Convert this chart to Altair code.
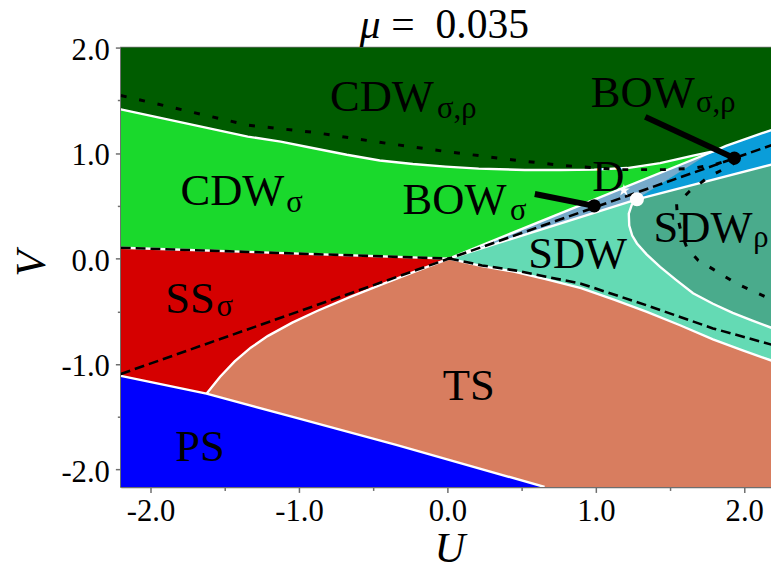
import altair as alt
import pandas as pd

FONT = "Liberation Serif"

# ---------------- axes extent ----------------
U_LIM = [-2.2, 2.18]
V_LIM = [-2.165, 2.0]
U_R = 2.2      # right closing coordinate (clipped)
V_B = -2.165   # bottom
V_T = 2.0      # top

# ---------------- phase boundaries (U, V) ----------------
top_U = [-2.2, -1.345, -1.123, -0.900, -0.678, -0.456, -0.233, -0.011, 0.211, 0.522, 0.762, 0.989, 1.211, 1.433, 1.655, 1.789, 1.877, 2.2]
top_V = [1.415, 1.156, 1.109, 1.046, 0.984, 0.930, 0.896, 0.872, 0.853, 0.840, 0.840, 0.843, 0.858, 0.905, 0.975, 1.015, 1.068, 1.227]

ss_cdw_U = [-2.2, 0.011]
ss_cdw_V = [0.103, 0.0]

ts_ss_U = [-1.623, -1.531, -1.433, -1.325, -1.211, -1.045, -0.878, -0.658, -0.433, -0.211, 0.011]
ts_ss_V = [-1.281, -1.120, -0.975, -0.845, -0.735, -0.607, -0.497, -0.366, -0.240, -0.118, 0.0]

ps_U = [-2.2, -1.623, -1.011, -0.345, 0.655]
ps_V = [-1.112, -1.281, -1.513, -1.766, -2.165]

sdw_ts_U = [0.011, 0.233, 0.455, 0.675, 0.900, 1.122, 1.344, 1.567, 1.789, 1.989, 2.2]
sdw_ts_V = [0.0, -0.072, -0.126, -0.200, -0.280, -0.390, -0.505, -0.632, -0.766, -0.870, -0.975]

sdw_rho_U = [1.277, 1.242, 1.222, 1.225, 1.245, 1.277, 1.342, 1.433, 1.542, 1.655, 1.789, 1.922, 2.055, 2.2]
sdw_rho_V = [0.562, 0.509, 0.425, 0.312, 0.218, 0.143, 0.040, -0.079, -0.204, -0.328, -0.428, -0.515, -0.588, -0.665]

bow_top_U = [0.011, 1.789]
bow_top_V = [0.0, 1.015]
bow_low_U = [0.011, 1.277]
bow_low_V = [0.0, 0.562]
bowsr_low_U = [1.277, 2.2]
bowsr_low_V = [0.562, 0.897]

# ---------------- guide lines ----------------
d1_U = [-2.2, 0.011, 2.2]
d1_V = [-1.094, 0.0, 1.083]
sdw_dash_U = [0.011, 0.233, 0.455, 0.900, 1.344, 1.789, 2.2]
sdw_dash_V = [0.0, -0.065, -0.112, -0.238, -0.444, -0.662, -0.822]
d2_U = [-2.2, -1.345, -0.9, -0.456, -0.011, 0.433, 0.762, 1.167, 1.455, 1.655, 1.8, 1.933]
d2_V = [1.546, 1.265, 1.196, 1.102, 1.015, 0.937, 0.884, 0.843, 0.843, 0.856, 0.89, 0.952]
d3_U = [1.955, 1.855, 1.767, 1.633, 1.544, 1.549, 1.575, 1.615, 1.689, 1.789, 1.944, 2.2]
d3_V = [0.921, 0.843, 0.781, 0.640, 0.518, 0.406, 0.247, 0.097, -0.016, -0.100, -0.234, -0.40]

# ---------------- markers & annotations ----------------
black_pts_U = [0.989, 1.933]
black_pts_V = [0.500, 0.952]
white_dot_U = [1.277]
white_dot_V = [0.562]
star_U = [1.189]
star_V = [0.647]
arrow1_U = [0.589, 0.989]
arrow1_V = [0.612, 0.500]
arrow2_U = [1.333, 1.933]
arrow2_V = [1.343, 0.952]

main_labels = ["CDW", "CDW", "BOW", "D", "BOW", "SDW", "SDW", "SS", "TS", "PS"]
main_U = [-0.791, -1.798, -0.302, 0.975, 0.966, 0.544, 1.389, -1.900, -0.031, -1.833]
main_V = [1.399, 0.509, 0.425, 0.640, 1.437, -0.094, 0.156, -0.516, -1.337, -1.921]
sub_labels = ["σ,ρ", "σ", "σ", "σ,ρ", "ρ", "σ"]
sub_U = [-0.070, -1.085, 0.422, 1.675, 2.060, -1.556]
sub_V = [1.329, 0.444, 0.368, 1.389, 0.106, -0.540]

# title pieces: italic symbol and value
title_sym = ["μ"]
title_sym_U = [-0.591]
title_val = ["=\u00a0\u00a00.035"]
title_val_U = [-0.378]
title_V = [2.093]

tick_vals = [-2.0, -1.5, -1.0, -0.5, 0.0, 0.5, 1.0, 1.5, 2.0]

STAR_PATH = ("M0,-1L0.2245,-0.309L0.951,-0.309L0.363,0.118L0.588,0.809L0,0.382"
             "L-0.588,0.809L-0.363,0.118L-0.951,-0.309L-0.2245,-0.309Z")

# ---------------- helpers ----------------
def pts(us, vs):
    return list(zip(us, vs))

def df_from(points):
    return pd.DataFrame({"U": [p[0] for p in points], "V": [p[1] for p in points],
                         "i": list(range(len(points)))})

label_expr = "datum.value % 1 === 0 ? (datum.value < 0 ? '-' : '') + format(abs(datum.value), '.1f') : ''"
tick_size = {"condition": {"test": "datum.value % 1 !== 0", "value": 3.5}, "value": 5.5}

xs = alt.Scale(domain=U_LIM, nice=False, zero=False)
ys = alt.Scale(domain=V_LIM, nice=False, zero=False)
x_axis = alt.Axis(values=tick_vals, labelExpr=label_expr, tickSize=tick_size, title="U",
                  titleX=332, titleY=75, titleBaseline="alphabetic", labelPadding=4,
                  labelFlush=False, labelOverlap=False, grid=False)
y_axis = alt.Axis(values=tick_vals, labelExpr=label_expr, tickSize=tick_size, title="V",
                  titleX=-77, titleY=218, titleBaseline="alphabetic", titleAngle=270,
                  labelPadding=6, labelBaseline="alphabetic", labelOffset=12,
                  labelFlush=False, labelOverlap=False, grid=False)

X = alt.X("U:Q", scale=xs, axis=x_axis)
Y = alt.Y("V:Q", scale=ys, axis=y_axis)

def polygon(points, color):
    return alt.Chart(df_from(points)).mark_line(
        filled=True, fill=color, stroke=color, strokeWidth=0.6, clip=True
    ).encode(x=X, y=Y, order=alt.Order("i:Q"))

def line(points, color, width, dash=None):
    kw = dict(color=color, strokeWidth=width, clip=True, strokeCap="butt")
    if dash is not None:
        kw["strokeDash"] = dash
    return alt.Chart(df_from(points)).mark_line(**kw).encode(x=X, y=Y, order=alt.Order("i:Q"))

origin = (0.011, 0.0)
wdot = (white_dot_U[0], white_dot_V[0])

# regions
reg_cdw_sr = [(-2.2, V_B), (U_R, V_B), (U_R, V_T), (-2.2, V_T)]
reg_cdw_s = pts(top_U, top_V) + [(U_R, V_B), (-2.2, V_B)]
reg_ss = pts(ss_cdw_U, ss_cdw_V) + [(0.011, -1.6), (-2.2, -1.6)]
reg_ts = pts(sdw_ts_U, sdw_ts_V) + [(U_R, V_B), (ts_ss_U[0], V_B)] + pts(ts_ss_U, ts_ss_V)
reg_ps = pts(ps_U, ps_V) + [(-2.2, V_B)]
reg_sdw = [origin, wdot, (bowsr_low_U[-1], bowsr_low_V[-1])] + pts(sdw_ts_U, sdw_ts_V)[::-1]
reg_sdw_r = pts(bowsr_low_U, bowsr_low_V) + pts(sdw_rho_U, sdw_rho_V)[::-1]
reg_bow_s = [origin, (bow_top_U[1], bow_top_V[1]), wdot]
reg_bow_sr = [wdot] + [(u, v) for u, v in zip(top_U, top_V) if u >= 1.789] + [(bowsr_low_U[-1], bowsr_low_V[-1])]

layers = [
    polygon(reg_cdw_sr, "#005c00"),
    polygon(reg_cdw_s, "#1ad92c"),
    polygon(reg_ss, "#d50000"),
    polygon(reg_ts, "#d87d5f"),
    polygon(reg_ps, "#0000fe"),
    polygon(reg_sdw, "#64dab4"),
    polygon(reg_sdw_r, "#4aab8c"),
    polygon(reg_bow_s, "#76aacb"),
    polygon(reg_bow_sr, "#0a9dd9"),
]

W = "white"
for us, vs in [(top_U, top_V), (ss_cdw_U, ss_cdw_V), (bow_top_U, bow_top_V), (bow_low_U, bow_low_V),
               (bowsr_low_U, bowsr_low_V), (sdw_rho_U, sdw_rho_V), (sdw_ts_U, sdw_ts_V),
               (ts_ss_U, ts_ss_V), (ps_U, ps_V)]:
    layers.append(line(pts(us, vs), W, 2.4))

layers += [
    line(pts(ss_cdw_U, ss_cdw_V), "black", 2.6, [10, 5]),
    line(pts(d1_U, d1_V), "black", 2.6, [10, 5]),
    line(pts(sdw_dash_U, sdw_dash_V), "black", 2.6, [10, 5]),
    line(pts(d2_U, d2_V), "black", 3, [6, 13]),
    line(pts(d3_U, d3_V), "black", 3, [6, 13]),
    line(pts(arrow1_U, arrow1_V), "black", 6),
    line(pts(arrow2_U, arrow2_V), "black", 6),
]

def point_layer(us, vs, color, size, shape):
    d = pd.DataFrame({"U": us, "V": vs})
    return alt.Chart(d).mark_point(
        filled=True, fill=color, color=color, size=size, shape=shape, opacity=1
    ).encode(x=X, y=Y)

layers += [
    point_layer(black_pts_U, black_pts_V, "black", 180, "circle"),
    point_layer(white_dot_U, white_dot_V, "white", 200, "circle"),
    point_layer(star_U, star_V, "white", 160, STAR_PATH),
]

def text_layer(labels, us, vs, size, style="normal"):
    d = pd.DataFrame({"U": us, "V": vs, "label": labels})
    return alt.Chart(d).mark_text(align="left", baseline="alphabetic", font=FONT,
                                  fontSize=size, fontStyle=style, color="black"
                                  ).encode(x=X, y=Y, text="label:N")

layers += [
    text_layer(main_labels, main_U, main_V, 45),
    text_layer(sub_labels, sub_U, sub_V, 31),
    text_layer(title_sym, title_sym_U, title_V, 42, "italic"),
    text_layer(title_val, title_val_U, title_V, 42),
]

chart = alt.layer(*layers).properties(
    width=657, height=444,
    padding={"left": 114, "top": 37, "right": 0, "bottom": 90},
    autosize=alt.AutoSizeParams(type="none"),
).configure_view(stroke="#6e6e6e", strokeWidth=1.5).configure_axis(
    labelFont=FONT, labelFontSize=31, labelColor="black",
    titleFont=FONT, titleFontSize=43, titleFontStyle="italic", titleFontWeight="normal",
    titleColor="black", domainColor="#6e6e6e", domainWidth=1.5,
    tickColor="#6e6e6e", tickWidth=1.5,
)

chart.save("out.html", embed_options={"renderer": "svg", "actions": False})
